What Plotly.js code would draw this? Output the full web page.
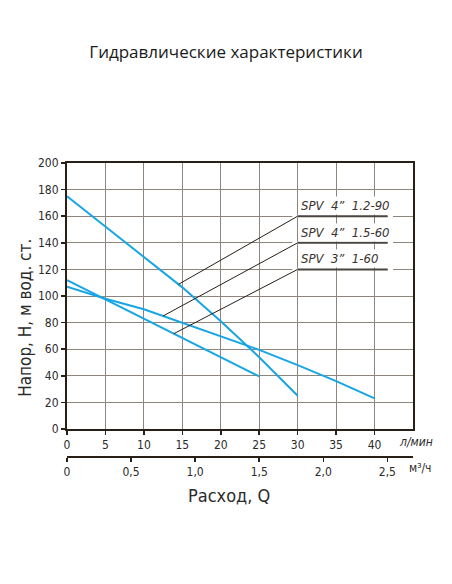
<!DOCTYPE html>
<html>
<head>
<meta charset="utf-8">
<script src="https://cdn.plot.ly/plotly-3.0.1.min.js"></script>
<style>html,body{margin:0;padding:0;background:#fff;}#chart{width:452px;height:584px;}</style>
</head>
<body>
<div id="chart"></div>
<script>
// Flow (l/min) and head (m) for each pump
const q_spv4_12_90 = [0, 5, 10, 15, 20, 25, 30];
const h_spv4_12_90 = [175, 152, 129.5, 106.5, 81, 54, 25];
const q_spv4_15_60 = [0, 5, 10, 12.5, 15, 20, 25, 30, 35, 40];
const h_spv4_15_60 = [107, 98, 90, 85, 80, 70, 59.5, 48, 36, 23];
const q_spv3_1_60 = [0, 5, 10, 15, 20, 25];
const h_spv3_1_60 = [112, 97.5, 83, 68.5, 54.5, 39.5];

const pumpNames = ['SPV  4”  1.2-90', 'SPV  4”  1.5-60', 'SPV  3”  1-60'];
const pointerQ = [14.5, 12.5, 13.9];
const labelH = [160, 140, 120];
const labelQStart = 30;
const labelQEnd = 41.7;

const xTicksLpm = [0, 5, 10, 15, 20, 25, 30, 35, 40];
const yTicks = [0, 20, 40, 60, 80, 100, 120, 140, 160, 180, 200];
const xTicksM3h = [0, 0.5, 1.0, 1.5, 2.0, 2.5];
const xTickTextM3h = ['0', '0,5', '1,0', '1,5', '2,0', '2,5'];

const series = [
  {q: q_spv4_12_90, h: h_spv4_12_90},
  {q: q_spv4_15_60, h: h_spv4_15_60},
  {q: q_spv3_1_60, h: h_spv3_1_60}
];

function interp(q, h, x) {
  for (let i = 0; i < q.length - 1; i++) {
    if (x >= q[i] && x <= q[i + 1]) {
      const t = (x - q[i]) / (q[i + 1] - q[i]);
      return h[i] + t * (h[i + 1] - h[i]);
    }
  }
  return h[h.length - 1];
}

const BLUE = '#17a6e3';
const GRID = '#8e867c';
const DARK = '#2a1f17';
const COND = 'DejaVu Sans Condensed, Liberation Sans Narrow, DejaVu Sans, sans-serif';

const traces = series.map((s, i) => ({
  x: s.q, y: s.h, type: 'scatter', mode: 'lines',
  line: {color: BLUE, width: 2}, hoverinfo: 'skip', showlegend: false
}));

// dummy trace for the second axis
traces.push({x: [0, 2.7], y: [null, null], xaxis: 'x2', yaxis: 'y', mode: 'lines', showlegend: false, hoverinfo: 'skip'});

const shapes = [];
const annotations = [];
series.forEach((s, i) => {
  const py = interp(s.q, s.h, pointerQ[i]);
  shapes.push({type: 'line', xref: 'x', yref: 'y', x0: pointerQ[i], y0: py, x1: labelQStart, y1: labelH[i],
    line: {color: DARK, width: 1}, layer: 'above'});
  shapes.push({type: 'line', xref: 'x', yref: 'y', x0: labelQStart, y0: labelH[i], x1: labelQEnd, y1: labelH[i],
    line: {color: '#4a4440', width: 2}, layer: 'above'});
  shapes.push({type: 'line', xref: 'x', yref: 'y', x0: labelQStart - 0.7, y0: labelH[i], x1: labelQStart, y1: labelH[i],
    line: {color: '#ffffff', width: 3}, layer: 'between'});
  shapes.push({type: 'line', xref: 'x', yref: 'y', x0: labelQEnd, y0: labelH[i], x1: labelQEnd + 0.7, y1: labelH[i],
    line: {color: '#ffffff', width: 3}, layer: 'between'});
  annotations.push({xref: 'x', yref: 'y', x: labelQStart + 0.2, y: labelH[i], xanchor: 'left', yanchor: 'bottom',
    yshift: 1, text: pumpNames[i], showarrow: false, bgcolor: '#ffffff', borderpad: 1,
    font: {family: COND, size: 13, color: '#3a3330', style: 'italic'}});
});

annotations.push({xref: 'paper', yref: 'paper', x: -0.12, y: 0.475, xanchor: 'center', yanchor: 'middle',
  textangle: -90, text: 'Напор, Н, м вод. ст.', showarrow: false,
  font: {family: COND, size: 17, color: '#2b2b2b'}});
annotations.push({xref: 'paper', yref: 'paper', x: 0.467, y: -0.13, xanchor: 'center', yanchor: 'middle',
  text: 'Расход, Q', showarrow: false, font: {family: COND, size: 18, color: '#2b2b2b'}});
annotations.push({xref: 'paper', yref: 'paper', x: 0.955, y: 0.052, xanchor: 'left', yanchor: 'middle',
  text: 'л/мин', showarrow: false, font: {family: COND, size: 12, color: '#2b2b2b', style: 'italic'}});
annotations.push({xref: 'paper', yref: 'paper', x: 0.982, y: -0.036, xanchor: 'left', yanchor: 'middle',
  text: 'м³/ч', showarrow: false, font: {family: COND, size: 12, color: '#2b2b2b'}});

const layout = {
  width: 452, height: 584,
  margin: {l: 67, r: 39, t: 163, b: 127},
  paper_bgcolor: '#ffffff', plot_bgcolor: '#ffffff',
  title: {text: 'Гидравлические характеристики', x: 0.5, xanchor: 'center', y: 0.911, yanchor: 'middle',
    font: {family: 'Open Sans, Noto Sans, sans-serif', size: 17, color: '#1a1a1a'}},
  xaxis: {range: [0, 45], domain: [0, 1], anchor: 'y', tickvals: xTicksLpm, ticks: 'outside', ticklen: 4,
    tickwidth: 1.5, tickcolor: DARK, showgrid: true, gridcolor: GRID, gridwidth: 1, zeroline: false,
    showline: true, linecolor: DARK, linewidth: 2, mirror: true,
    tickfont: {family: COND, size: 12, color: '#2b2b2b'}},
  yaxis: {range: [0, 200], domain: [0.0952, 1], tickvals: yTicks, ticks: 'outside', ticklen: 4,
    tickwidth: 1.5, tickcolor: DARK, showgrid: true, gridcolor: GRID, gridwidth: 1, zeroline: false,
    showline: true, linecolor: DARK, linewidth: 2, mirror: true,
    tickfont: {family: COND, size: 12, color: '#2b2b2b'}},
  xaxis2: {range: [0, 2.7], anchor: 'free', position: 0, overlaying: 'x', side: 'bottom',
    tickvals: xTicksM3h, ticktext: xTickTextM3h, ticks: 'outside', ticklen: 4, tickwidth: 1.5, tickcolor: DARK,
    showgrid: false, zeroline: false, showline: true, linecolor: DARK, linewidth: 2,
    tickfont: {family: COND, size: 12, color: '#2b2b2b'}},
  shapes: shapes,
  annotations: annotations,
  showlegend: false
};

Plotly.newPlot('chart', traces, layout, {staticPlot: true, displayModeBar: false});
</script>
</body>
</html>
